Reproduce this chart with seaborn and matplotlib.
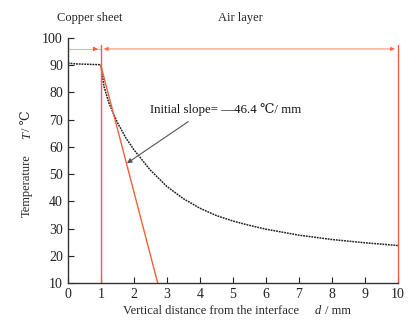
import numpy as np
import pandas as pd
import matplotlib
matplotlib.use("Agg")
import matplotlib.pyplot as plt
import seaborn as sns

# data
copper_d = [0.0, 0.25, 0.5, 0.75, 1.0]
copper_T = [90.8, 90.5, 90.4, 90.3, 90.2]
air_d = [1.0, 1.1, 1.25, 1.5, 1.75, 2.0, 2.5, 3.0, 3.5, 4.0, 4.5, 5.0, 5.5, 6.0, 7.0, 8.0, 9.0, 10.0]
air_T = [90.0, 82.0, 76.0, 69.0, 63.5, 59.0, 51.5, 45.5, 41.0, 37.5, 34.8, 32.8, 31.2, 29.8, 27.6, 26.0, 24.8, 23.8]
slope = -46.4
tangent_d = [1.0, 1.0 + (10 - 90.0) / slope]
tangent_T = [90.0, 10.0]
boundaries = [1.0, 10.0]
xticks = list(range(0, 11))
yticks = list(range(10, 101, 10))

sns.set_style("ticks")
plt.rcParams['font.family'] = ['Liberation Serif', 'DejaVu Serif']

W, H = 411, 328
fig = plt.figure(figsize=(W / 100, H / 100), dpi=100)
ax = fig.add_axes([0.165, 0.137, 0.803, 0.747])

df = pd.DataFrame({"d": copper_d + air_d, "T": copper_T + air_T})
sns.lineplot(data=df, x="d", y="T", ax=ax, color="#222222", lw=1.1,
             linestyle=(0, (1.2, 0.6)), sort=False, estimator=None)

red = "#f0603c"
sns.lineplot(x=tangent_d, y=tangent_T, ax=ax, color=red, lw=1.0, estimator=None)
for b in boundaries:
    ax.plot([b, b], [10, 97.5], color=red, lw=1.0, clip_on=False)
ax.plot([0, 1], [96, 96], color=red, lw=0.8, alpha=0.5, clip_on=False)
ax.annotate("", xy=(1, 96), xytext=(0.75, 96),
            arrowprops=dict(arrowstyle="-|>", color=red, lw=0.8, mutation_scale=6), annotation_clip=False)
ax.annotate("", xy=(10, 96), xytext=(1, 96),
            arrowprops=dict(arrowstyle="<|-|>", color=red, lw=0.8, alpha=0.7, mutation_scale=6), annotation_clip=False)

ax.text(2.5, 73.6, "Initial slope= \u201446.4 \u2103/ mm", fontsize=9.3, ha="left", va="center",
        color="#111111")
ax.annotate("", xy=(1.79, 54.0), xytext=(3.65, 69.3),
            arrowprops=dict(arrowstyle="-|>", color="#555555", lw=0.8, mutation_scale=7, shrinkA=0, shrinkB=0))

def ft(x, y, s, **kw):
    fig.text(x / W, 1 - y / H, s, ha="center", va="center", **kw)

ft(90, 18, "Copper sheet", fontsize=9)
ft(240, 18, "Air layer", fontsize=9)

# axis labels built from pieces (italic symbols)
ft(211, 311, "Vertical distance from the interface", fontsize=9)
ft(318, 311, "d", fontsize=9, style="italic")
ft(338, 311, "/ mm", fontsize=9)
ft(27, 186, "Temperature", fontsize=9, rotation=90)
ft(27, 136, "T", fontsize=9, style="italic", rotation=90)
ft(27, 121, "/ \u2103", fontsize=9, rotation=90)

ax.set_xlim(0, 10)
ax.set_ylim(10, 100)
ax.set_xticks(xticks)
ax.set_yticks(yticks)
ax.tick_params(direction="in", length=4, width=0.8, labelsize=10, colors="#222222")
ax.set_xlabel("")
ax.set_ylabel("")
sns.despine(ax=ax)
for s in ["left", "bottom"]:
    ax.spines[s].set_color("#333333")
    ax.spines[s].set_linewidth(1.0)

fig.savefig("out.png", dpi=100)
